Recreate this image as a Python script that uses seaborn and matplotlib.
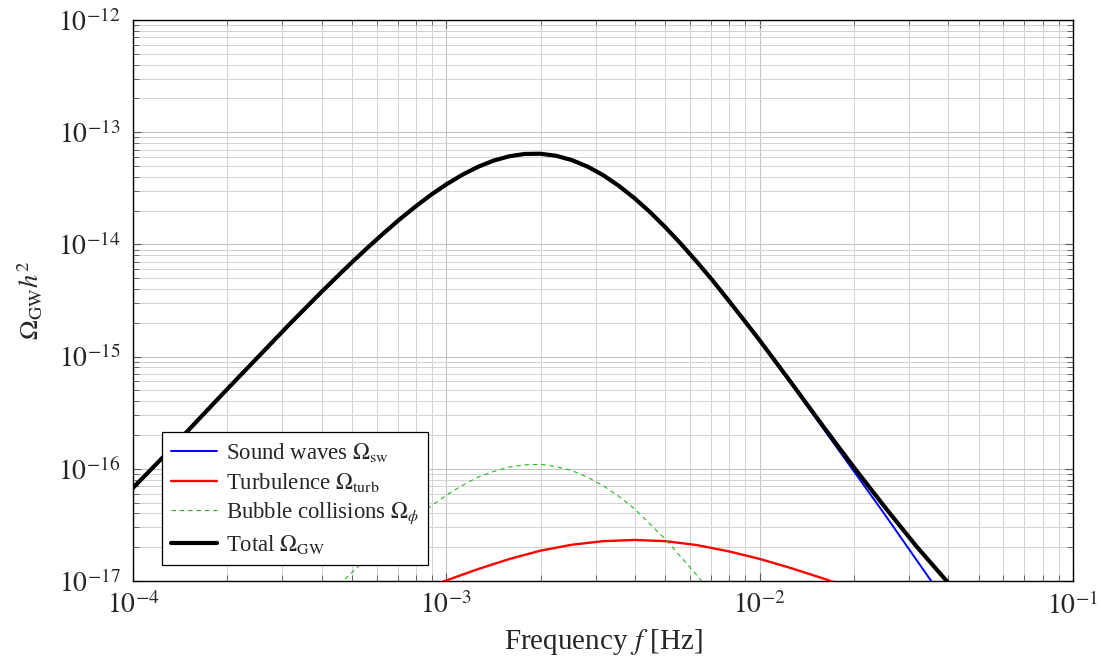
import numpy as np
import pandas as pd
import matplotlib
matplotlib.use("Agg")
import matplotlib.pyplot as plt
import matplotlib.ticker as mticker
import seaborn as sns

# log10 of frequency [Hz] and log10 of Omega_GW h^2
sw_logf = [-4.0, -3.9, -3.8, -3.7, -3.6, -3.5, -3.4, -3.35, -3.3, -3.25, -3.2, -3.15,
           -3.1, -3.05, -3.0, -2.95, -2.9, -2.85, -2.8, -2.75, -2.7, -2.65, -2.6,
           -2.55, -2.5, -2.45, -2.4, -2.35, -2.3, -2.25, -2.2, -2.15, -2.1, -2.05,
           -2.0, -1.9, -1.8, -1.7, -1.6, -1.5, -1.4]
sw_logO = [-16.17, -15.884, -15.587, -15.292, -15.001, -14.710, -14.428, -14.291,
           -14.156, -14.026, -13.900, -13.779, -13.666, -13.560, -13.465, -13.381,
           -13.310, -13.254, -13.215, -13.194, -13.192, -13.210, -13.248, -13.306,
           -13.382, -13.477, -13.587, -13.712, -13.850, -13.999, -14.157, -14.322,
           -14.500, -14.680, -14.860, -15.240, -15.630, -16.020, -16.410, -16.810,
           -17.210]

turb_logf = [-3.1, -3.0, -2.9, -2.8, -2.7, -2.6, -2.5, -2.4, -2.3, -2.2, -2.1, -2.0,
             -1.9, -1.8, -1.7]
turb_logO = [-17.100, -16.995, -16.895, -16.805, -16.730, -16.677, -16.645, -16.634,
             -16.645, -16.680, -16.735, -16.803, -16.885, -16.975, -17.070]

bub_logf = [-3.4, -3.3, -3.2, -3.1, -3.0, -2.95, -2.9, -2.85, -2.8, -2.75, -2.7,
            -2.65, -2.6, -2.55, -2.5, -2.45, -2.4, -2.3, -2.2, -2.1]
bub_logO = [-17.19, -16.92, -16.665, -16.435, -16.235, -16.15, -16.075, -16.025,
            -15.985, -15.965, -15.96, -15.98, -16.015, -16.075, -16.15, -16.245,
            -16.355, -16.63, -16.95, -17.29]

tot_logf = sw_logf
tot_logO = [-16.17, -15.884, -15.587, -15.292, -15.001, -14.710, -14.428, -14.291,
            -14.156, -14.026, -13.900, -13.779, -13.666, -13.560, -13.465, -13.381,
            -13.310, -13.254, -13.215, -13.194, -13.192, -13.210, -13.248, -13.306,
            -13.382, -13.477, -13.587, -13.712, -13.850, -13.999, -14.157, -14.322,
            -14.497, -14.675, -14.855, -15.230, -15.611, -15.984, -16.343, -16.690,
            -17.010]

labels = [r"Sound waves $\Omega_{\rm sw}$",
          r"Turbulence $\Omega_{\rm turb}$",
          r"Bubble collisions $\Omega_{\phi}$",
          r"Total $\Omega_{\rm GW}$"]

x_decades = [-4, -3, -2, -1]
y_decades = [-17, -16, -15, -14, -13, -12]


def frame(lf, lo):
    return pd.DataFrame({"f": np.power(10.0, lf), "omega": np.power(10.0, lo)})


def minor_ticks(decades):
    return [m * 10.0 ** d for d in decades[:-1] for m in range(2, 10)]


sns.set_style("ticks")
plt.rcParams["font.family"] = ["Liberation Serif", "DejaVu Serif"]
plt.rcParams["mathtext.fontset"] = "stix"

fig = plt.figure(figsize=(11.01, 6.64), dpi=100)
ax = fig.add_axes([133 / 1101, 1 - 581 / 664, 940 / 1101, 561 / 664])

sns.lineplot(data=frame(sw_logf, sw_logO), x="f", y="omega", ax=ax,
             color="#0000ff", lw=1.4, label=labels[0], zorder=3)
sns.lineplot(data=frame(turb_logf, turb_logO), x="f", y="omega", ax=ax,
             color="#ff0000", lw=1.7, label=labels[1], zorder=3)
sns.lineplot(data=frame(bub_logf, bub_logO), x="f", y="omega", ax=ax,
             color="#22b822", lw=0.8, dashes=(4, 3.5), label=labels[2], zorder=3)
sns.lineplot(data=frame(tot_logf, tot_logO), x="f", y="omega", ax=ax,
             color="black", lw=3.0, label=labels[3], zorder=4)

ax.set_xscale("log")
ax.set_yscale("log")
ax.set_xlim(1e-4, 1e-1)
ax.set_ylim(1e-17, 1e-12)

ax.xaxis.set_major_locator(mticker.FixedLocator([10.0 ** d for d in x_decades]))
ax.yaxis.set_major_locator(mticker.FixedLocator([10.0 ** d for d in y_decades]))
ax.xaxis.set_minor_locator(mticker.FixedLocator(minor_ticks(x_decades)))
ax.yaxis.set_minor_locator(mticker.FixedLocator(minor_ticks(y_decades)))
ax.xaxis.set_major_formatter(mticker.FixedFormatter([rf"$10^{{{d}}}$" for d in x_decades]))
ax.yaxis.set_major_formatter(mticker.FixedFormatter([rf"$10^{{{d}}}$" for d in y_decades]))
ax.xaxis.set_minor_formatter(mticker.NullFormatter())
ax.yaxis.set_minor_formatter(mticker.NullFormatter())

ax.grid(which="major", color="#c4c4c4", lw=0.8)
ax.grid(which="minor", color="#d2d2d2", lw=0.7)
ax.set_axisbelow(True)

ax.tick_params(which="both", direction="in", top=True, right=True, color="#555555")
ax.tick_params(which="major", length=6, width=0.8, labelsize=20)
ax.tick_params(axis="x", which="major", pad=8)
ax.tick_params(axis="y", which="major", pad=9)
ax.tick_params(which="minor", length=4, width=0.6)
for s in ax.spines.values():
    s.set_color("black")
    s.set_linewidth(1.0)

ax.set_xlabel(r"Frequency $f$ [Hz]", fontsize=21)
ax.xaxis.set_label_coords(0.5, -0.082)
ax.set_ylabel(r"$\Omega_{\rm GW} h^2$", fontsize=19)
ax.yaxis.set_label_coords(-0.094, 0.5)

leg = ax.legend(loc="lower left", bbox_to_anchor=(0.031, 0.0285), borderaxespad=0,
                fontsize=16.4, frameon=True, fancybox=False, edgecolor="black",
                framealpha=1, handlelength=2.0, handletextpad=0.4, labelspacing=0.3,
                borderpad=0.4)
leg.get_frame().set_linewidth(0.9)

plt.savefig("out.png", dpi=100)
